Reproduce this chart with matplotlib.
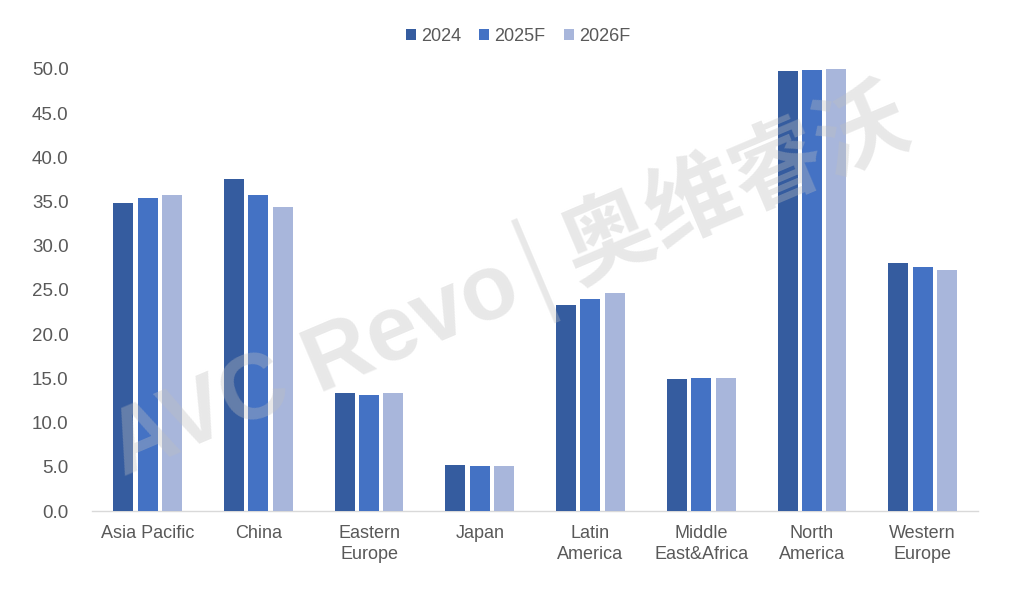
import matplotlib
matplotlib.use("Agg")
import matplotlib.pyplot as plt
import numpy as np

categories = ["Asia Pacific", "China", "Eastern\nEurope", "Japan", "Latin\nAmerica",
              "Middle\nEast&Africa", "North\nAmerica", "Western\nEurope"]
series_names = ["2024", "2025F", "2026F"]
v2024 = [34.8, 37.5, 13.4, 5.2, 23.3, 14.9, 49.8, 28.0]
v2025 = [35.4, 35.8, 13.1, 5.1, 24.0, 15.0, 49.9, 27.6]
v2026 = [35.7, 34.4, 13.4, 5.1, 24.7, 15.1, 50.0, 27.3]
yticks = [0, 5, 10, 15, 20, 25, 30, 35, 40, 45, 50]

colors = ["#355C9F", "#4472C4", "#A8B6DB"]

plt.rcParams['font.family'] = ['Liberation Sans', 'Noto Sans CJK SC', 'DejaVu Sans']

fig = plt.figure(figsize=(10.36, 5.89), dpi=100)
ax = fig.add_axes([0.089, 0.1324, 0.855, 0.7505])

x = np.arange(len(categories))
width = 0.18
pitch = 0.22
for i, (vals, name) in enumerate(zip([v2024, v2025, v2026], series_names)):
    ax.bar(x + (i - 1) * pitch, vals, width, color=colors[i], label=name,
           clip_on=False, zorder=3)

ax.set_xlim(-0.5, len(categories) - 0.5)
ax.set_ylim(0, 50)
ax.set_yticks(yticks)
ax.set_yticklabels([f"{t:.1f}" for t in yticks])
ax.set_xticks(x)
ax.set_xticklabels(categories, linespacing=1.3)
ax.tick_params(axis='both', length=0, labelsize=13, colors="#595959")
ax.tick_params(axis='y', pad=17, labelsize=13.5)
ax.tick_params(axis='x', pad=10)
for s in ["top", "right", "left"]:
    ax.spines[s].set_visible(False)
ax.spines["bottom"].set_color("#D9D9D9")
ax.spines["bottom"].set_linewidth(1.0)

leg = fig.legend(loc="center", bbox_to_anchor=(0.5, 0.938), ncol=3, frameon=False,
                 fontsize=13, handlelength=0.55, handleheight=0.55, handletextpad=0.3,
                 columnspacing=1.0)
for t in leg.get_texts():
    t.set_color("#595959")

# watermark
fig.text(0.49, 0.52, "AVC Revo│奥维睿沃", fontsize=66, fontweight="bold",
         color="#BFBFBF", alpha=0.35, rotation=23, ha="center", va="center", zorder=0)

fig.savefig("out.png", dpi=100)
